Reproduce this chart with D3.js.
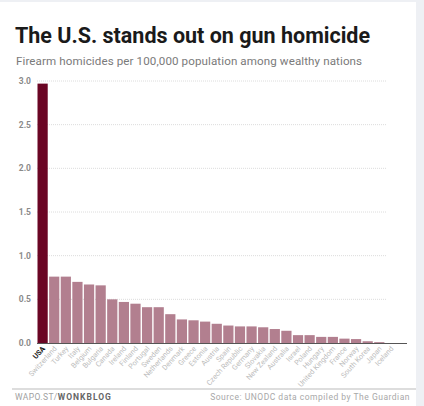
<!DOCTYPE html>
<html>
<head>
<meta charset="utf-8">
<script src="https://cdn.jsdelivr.net/npm/d3@7"></script>
<style>
  body { margin: 0; background: #eef0f4; }
  svg { display: block; }
</style>
</head>
<body>
<script>
const countries = ['USA', 'Switzerland', 'Turkey', 'Italy', 'Belgium', 'Bulgaria', 'Canada', 'Ireland',
    'Finland', 'Portugal', 'Sweden', 'Netherlands', 'Denmark', 'Greece', 'Estonia', 'Austria', 'Spain',
    'Czech Republic', 'Germany', 'Slovakia', 'New Zealand', 'Australia', 'Israel', 'Poland', 'Hungary',
    'United Kingdom', 'France', 'Norway', 'South Korea', 'Japan', 'Iceland'];
const rates = [2.97, 0.76, 0.76, 0.70, 0.67, 0.66, 0.50, 0.47,
    0.45, 0.41, 0.41, 0.33, 0.27, 0.26, 0.245, 0.22, 0.20,
    0.19, 0.19, 0.18, 0.16, 0.14, 0.09, 0.09, 0.07,
    0.07, 0.05, 0.045, 0.02, 0.01, 0.0];
const yTicks = [0, 0.5, 1.0, 1.5, 2.0, 2.5, 3.0];

const width = 424,
    height = 406;

let svg = d3.select('body').append('svg')
    .attr('width', width)
    .attr('height', height);

// white card
svg.append('rect')
    .attr('x', 0).attr('y', 2)
    .attr('width', 416).attr('height', height - 2)
    .attr('fill', '#fff');

let x = d3.scaleBand()
    .domain(countries)
    .range([37.5, 396])
    .paddingInner(0.12)
    .paddingOuter(0);

let y = d3.scaleLinear()
    .domain([0, 3])
    .range([343, 81]);

// grid
svg.append('g')
    .selectAll('line')
    .data(yTicks.filter(d => d > 0))
    .join('line')
    .attr('x1', 37).attr('x2', 387)
    .attr('y1', d => y(d)).attr('y2', d => y(d))
    .attr('stroke', '#dcdcdc')
    .attr('stroke-width', 1)
    .attr('stroke-dasharray', '1,1');

// y tick labels
svg.append('g')
    .selectAll('text')
    .data(yTicks)
    .join('text')
    .attr('x', 31)
    .attr('y', d => y(d) + 3)
    .attr('text-anchor', 'end')
    .attr('font-family', 'Roboto, sans-serif')
    .attr('font-weight', 'bold')
    .attr('font-size', 8.5)
    .attr('fill', '#8a8a8a')
    .text(d => d.toFixed(1));

// bars
svg.append('g')
    .selectAll('rect')
    .data(countries)
    .join('rect')
    .attr('x', d => x(d))
    .attr('y', (d, i) => y(rates[i]))
    .attr('width', x.bandwidth())
    .attr('height', (d, i) => y(0) - y(rates[i]))
    .attr('fill', (d, i) => i === 0 ? '#6a0524' : '#b27f8f');

// baseline
svg.append('line')
    .attr('x1', 37).attr('x2', 407)
    .attr('y1', y(0) + 0.5).attr('y2', y(0) + 0.5)
    .attr('stroke', '#555')
    .attr('stroke-width', 1);

// country labels
svg.append('g')
    .selectAll('text')
    .data(countries)
    .join('text')
    .attr('transform', d => `translate(${x(d) + x.bandwidth() / 2 + 3},${y(0) + 6}) rotate(-48)`)
    .attr('text-anchor', 'end')
    .attr('font-family', 'Roboto, sans-serif')
    .attr('font-size', 7.3)
    .attr('font-weight', (d, i) => i === 0 ? 'bold' : 'normal')
    .attr('fill', (d, i) => i === 0 ? '#222' : '#bdbdbd')
    .text(d => d);

// title + subtitle
svg.append('text')
    .attr('x', 15).attr('y', 43)
    .attr('font-family', 'Roboto, sans-serif')
    .attr('font-weight', 'bold')
    .attr('font-size', 21.5)
    .attr('fill', '#1a1a1a')
    .text('The U.S. stands out on gun homicide');

svg.append('text')
    .attr('x', 16).attr('y', 65)
    .attr('font-family', 'Roboto, sans-serif')
    .attr('font-size', 11.6)
    .attr('fill', '#7a7a7a')
    .attr('letter-spacing', 0.1)
    .text('Firearm homicides per 100,000 population among wealthy nations');

// footer
svg.append('line')
    .attr('x1', 12).attr('x2', 416)
    .attr('y1', 389).attr('y2', 389)
    .attr('stroke', '#bbb');

let credit = svg.append('text')
    .attr('x', 15).attr('y', 400)
    .attr('font-family', 'Roboto, sans-serif')
    .attr('font-size', 8.5)
    .attr('fill', '#a0a0a0');
credit.append('tspan').attr('letter-spacing', 0.4).text('WAPO.ST/');
credit.append('tspan').attr('font-weight', 'bold').attr('fill', '#666').attr('letter-spacing', 1).text('WONKBLOG');

svg.append('text')
    .attr('x', 410).attr('y', 400)
    .attr('text-anchor', 'end')
    .attr('font-family', 'Roboto, sans-serif')
    .attr('font-size', 8.5)
    .attr('fill', '#a8a8a8')
    .attr('letter-spacing', 0.5)
    .text('Source: UNODC data compiled by The Guardian');
</script>
</body>
</html>
